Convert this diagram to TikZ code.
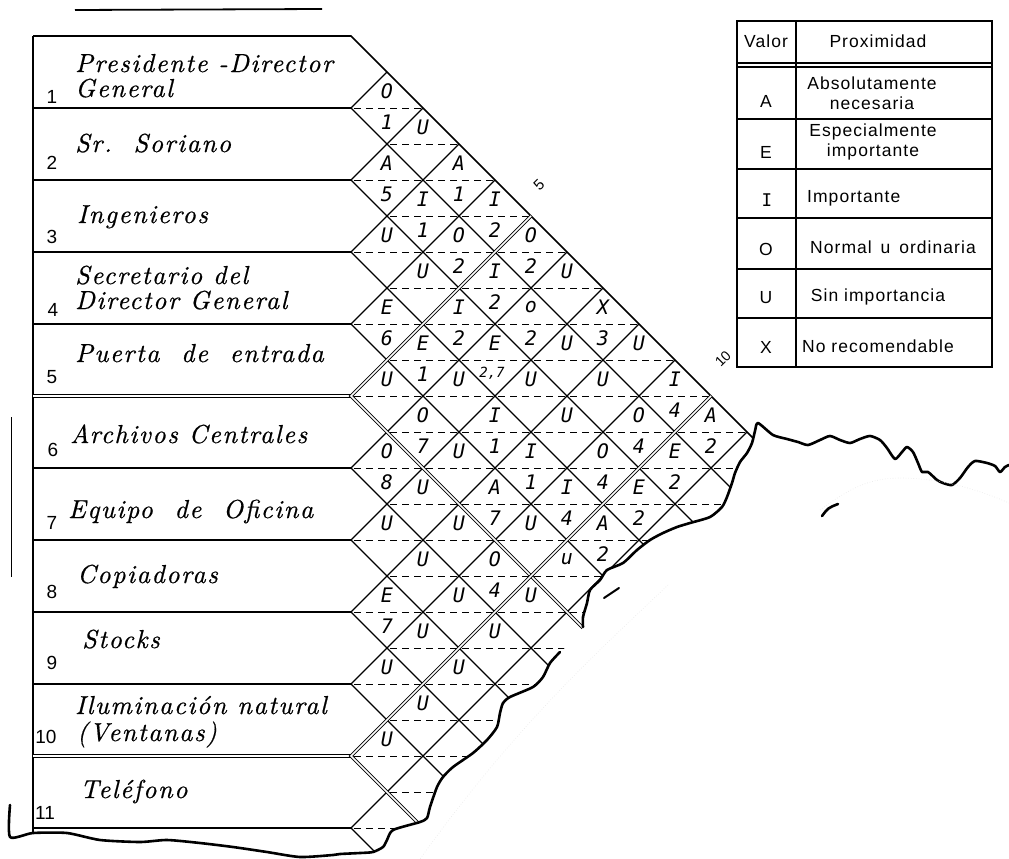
\documentclass[tikz,border=0pt]{standalone}
\usepackage{fontspec}
\newfontfamily\legendfont[LetterSpace=6]{Liberation Sans}
\newfontfamily\numfont{Liberation Sans}
\newfontfamily\cellfont{DejaVu Sans Mono}
\newfontfamily\handfont{lmroman10-italic.otf}[LetterSpace=6, FakeBold=0.6]
\begin{document}
\begin{tikzpicture}[x=1pt,y=-1pt,
  frame/.style={line width=1.6pt},
  rowline/.style={line width=1.4pt},
  gridline/.style={line width=1.1pt},
  halfline/.style={line width=0.9pt, dash pattern=on 7pt off 5pt, dash phase=-3pt},
  dbl/.style={double, double distance=1.5pt, line width=0.9pt, line join=miter},
  torn/.style={line width=2.6pt, line join=round, line cap=round},
  faint/.style={gray!18, line width=0.6pt, dotted},
  rowlabel/.style={anchor=base west, inner sep=0pt, align=left,
    font=\handfont\fontsize{26}{23}\selectfont},
  rownum/.style={inner sep=0pt, font=\numfont\fontsize{19}{19}\selectfont},
  rel/.style={inner sep=0pt, font=\cellfont\fontsize{20}{20}\selectfont\itshape},
  legtext/.style={inner sep=0pt, align=center, font=\legendfont\fontsize{17.5}{20}\selectfont},
  legline/.style={line width=1.2pt}
]
\useasboundingbox (0,0) rectangle (1009,859);
\fill[white] (0,0) rectangle (1009,859);

% short rule above the chart
\draw[line width=1.8pt] (75,10) -- (322,9);

% ---------- activity column ----------
\foreach \k in {1,...,11} \coordinate (tip\k) at (351,36+72*\k);
\coordinate (corner) at (351,36);
\draw[frame] (33,36) -- (33,833);
\draw[frame] (33,36) -- (corner) -- (753,438);
\foreach \k in {1,2,3,4,6,7,8,9,11} \draw[rowline] (33,36+72*\k) -- (tip\k);
\draw[dbl] (33,396) -- (tip5);
\draw[dbl] (33,756) -- (tip10);

% ---------- relationship grid, cut by the torn edge ----------
\begin{scope}
\clip (corner) -- (753,438) -- plot[smooth, tension=0.4] coordinates {
 (752,443) (747,453) (740,462) (735,473) (732,483) (727,497) (722,507) (710,517)
 (690,523) (677,527) (663,533) (650,540) (637,550) (623,563) (607,570) (600,580)
 (590,590) (587,603) (583,617) (583,627) (570,642) (558,655) (550,663) (543,677)
 (533,687) (510,697) (503,703) (500,713) (497,727) (487,740) (473,753) (453,767)
 (443,777) (437,787) (430,807) (427,818) (420,822) (393,830) (387,840) (383,847)
 (373,852) (360,853) (340,854)} -- (300,870) -- (300,36) -- cycle;
 \foreach \k in {1,...,13} {
   \draw[gridline] (351,36+72*\k) -- ++(36*\k,-36*\k);
   \draw[gridline] (351,36+72*\k) -- ++(540,540);
 }
 \foreach \s in {2,...,23} {
   \pgfmathsetmacro\xs{351+36*mod(\s,2)}
   \pgfmathsetmacro\xe{351+36*\s}
   \draw[halfline] (\xs,36+36*\s) -- (\xe,36+36*\s);
 }
 \draw[dbl] (531,216) -- (tip5) -- ++(300,300);
 \draw[dbl] (711,396) -- (tip10) -- ++(200,200);
\end{scope}

% torn paper outline
\draw[torn] plot[smooth, tension=0.4] coordinates {
 (1009,465) (1005,467) (1000,472) (995,466) (987,463) (975,461) (968,467) (960,478)
 (952,485) (943,483) (937,480) (928,472) (922,472) (918,463) (913,452) (907,447)
 (902,452) (895,459) (887,448) (880,440) (870,436) (860,439) (850,443) (840,440)
 (830,436) (820,440) (808,445) (798,442) (787,439) (773,435) (758,423) (755,431)
 (752,443) (747,453) (740,462) (735,473) (732,483) (727,497) (722,507) (710,517)
 (690,523) (677,527) (663,533) (650,540) (637,550) (623,563) (607,570) (600,580)
 (590,590) (587,603) (583,617) (583,627)};
\draw[torn] plot[smooth, tension=0.4] coordinates {
 (560,652) (550,663) (543,677)
 (533,687) (510,697) (503,703) (500,713) (497,727) (487,740) (473,753) (453,767)
 (443,777) (437,787) (430,807) (427,818) (420,822) (393,830) (387,840) (383,847)
 (373,852) (360,853) (340,854) (333,855) (300,857) (267,852) (233,847) (200,843)
 (167,840) (140,842) (100,840) (67,833) (33,833) (10,837) (10,805)};
\draw[torn] (822,516) .. controls (828,508) .. (838,504);
\draw[torn, line width=2pt] (604,598) -- (619,588);
\draw[line width=0.8pt] (11,417) -- (11,577);
\draw[faint] (820,510) .. controls (850,488) and (870,478) .. (900,478)
  .. controls (940,478) and (980,490) .. (1009,503);
\draw[faint] (668,585) .. controls (600,650) and (520,720) .. (420,859);

% ---------- column markers ----------
\node[rotate=45, inner sep=0pt, font=\numfont\fontsize{15}{15}\selectfont] (m5) at (539,185) {5};
\node[rotate=45, inner sep=0pt, font=\numfont\fontsize{14}{14}\selectfont] (m10) at (723,359) {10};

% ---------- activity names ----------
\node[rowlabel] (a1) at (75,72) {Presidente -Director};
\node[rowlabel] (a1b) at (75,97) {General};
\node[rowlabel] (a2) at (75,152) {Sr.\ \ Soriano};
\node[rowlabel] (a3) at (77,223) {Ingenieros};
\node[rowlabel] (a4) at (75,284) {Secretario del};
\node[rowlabel] (a4b) at (75,309) {Director General};
\node[rowlabel] (a5) at (75,362) {Puerta \ de \ entrada};
\node[rowlabel] (a6) at (70,443) {Archivos Centrales};
\node[rowlabel] (a7) at (68,518) {Equipo \ de \ Oficina};
\node[rowlabel] (a8) at (77,583) {Copiadoras};
\node[rowlabel] (a9) at (82,648) {Stocks};
\node[rowlabel] (a10) at (75,714) {Iluminación natural};
\node[rowlabel] (a10b) at (77,741) {(Ventanas)};
\node[rowlabel] (a11) at (80,798) {Teléfono};

\foreach \n/\x/\y in {1/52/97,2/52/163,3/52/237,4/53/310,5/52/377,6/53/450,
  7/52/523,8/52/592,9/52/663,10/46/737,11/45/813}
  \node[rownum] (n\n) at (\x,\y) {\n};

% ---------- relationship codes ----------
\foreach \i/\j/\c in {1/2/O,1/3/U,1/4/A,1/5/I,1/6/O,1/7/U,1/8/X,1/9/U,1/10/I,1/11/A,
  2/3/A,2/4/I,2/5/O,2/6/I,2/7/o,2/8/U,2/9/U,2/10/O,2/11/E,
  3/4/U,3/5/U,3/6/I,3/7/E,3/8/U,3/9/U,3/10/O,3/11/E,
  4/5/E,4/6/E,4/7/U,4/8/I,4/9/I,4/10/I,4/11/A,
  5/6/U,5/7/O,5/8/U,5/9/A,5/10/U,5/11/u,
  6/7/O,6/8/U,6/9/U,6/10/O,6/11/U,
  7/8/U,7/9/U,7/10/U,7/11/U,8/9/E,8/10/U,8/11/U,9/10/U,9/11/U,10/11/U}
  \node[rel] (u\i-\j) at ({351+36*(\j-\i)},{36+36*(\i+\j-1)-17}) {\c};
\foreach \i/\j/\c in {1/2/1,1/4/1,1/5/2,1/6/2,1/8/3,1/10/4,1/11/2,
  2/3/5,2/4/1,2/5/2,2/6/2,2/7/2,2/10/4,2/11/2,3/6/2,3/10/4,3/11/2,
  4/5/6,4/6/1,4/8/1,4/9/1,4/10/4,4/11/2,5/7/7,5/9/7,6/7/8,6/10/4,8/9/7}
  \node[rel] (r\i-\j) at ({351+36*(\j-\i)},{36+36*(\i+\j-1)+14}) {\c};
\node[rel, font=\cellfont\fontsize{14}{14}\selectfont\itshape] (r3-7) at (492,373) {2,7};

% ---------- legend ----------
\draw[legline] (737,21) rectangle (992,367);
\draw[legline] (796,21) -- (796,367);
\draw[legline] (737,63) -- (992,63);
\draw[legline] (737,67) -- (992,67);
\foreach \y in {119,169,218,269,318} \draw[legline] (737,\y) -- (992,\y);
\node[legtext] (hv) at (766,41) {Valor};
\node[legtext] (hp) at (878,41) {Proximidad};
\node[legtext] (vA) at (766,101) {A};
\node[legtext] (pA) at (872,93) {Absolutamente\\necesaria};
\node[legtext] (vE) at (766,152) {E};
\node[legtext] (pE) at (873,142) {Especialmente\\importante};
\node[legtext, font=\cellfont\fontsize{17.5}{20}\selectfont] (vI) at (767,200) {I};
\node[legtext, anchor=west] (pI) at (807,198) {Importante};
\node[legtext] (vO) at (766,249) {O};
\node[legtext] (pO) at (893,247) {Normal \,u\, ordinaria};
\node[legtext] (vU) at (766,298) {U};
\node[legtext] (pU) at (878,297) {Sin importancia};
\node[legtext] (vX) at (766,347) {X};
\node[legtext] (pX) at (878,346) {No recomendable};
\end{tikzpicture}
\end{document}
